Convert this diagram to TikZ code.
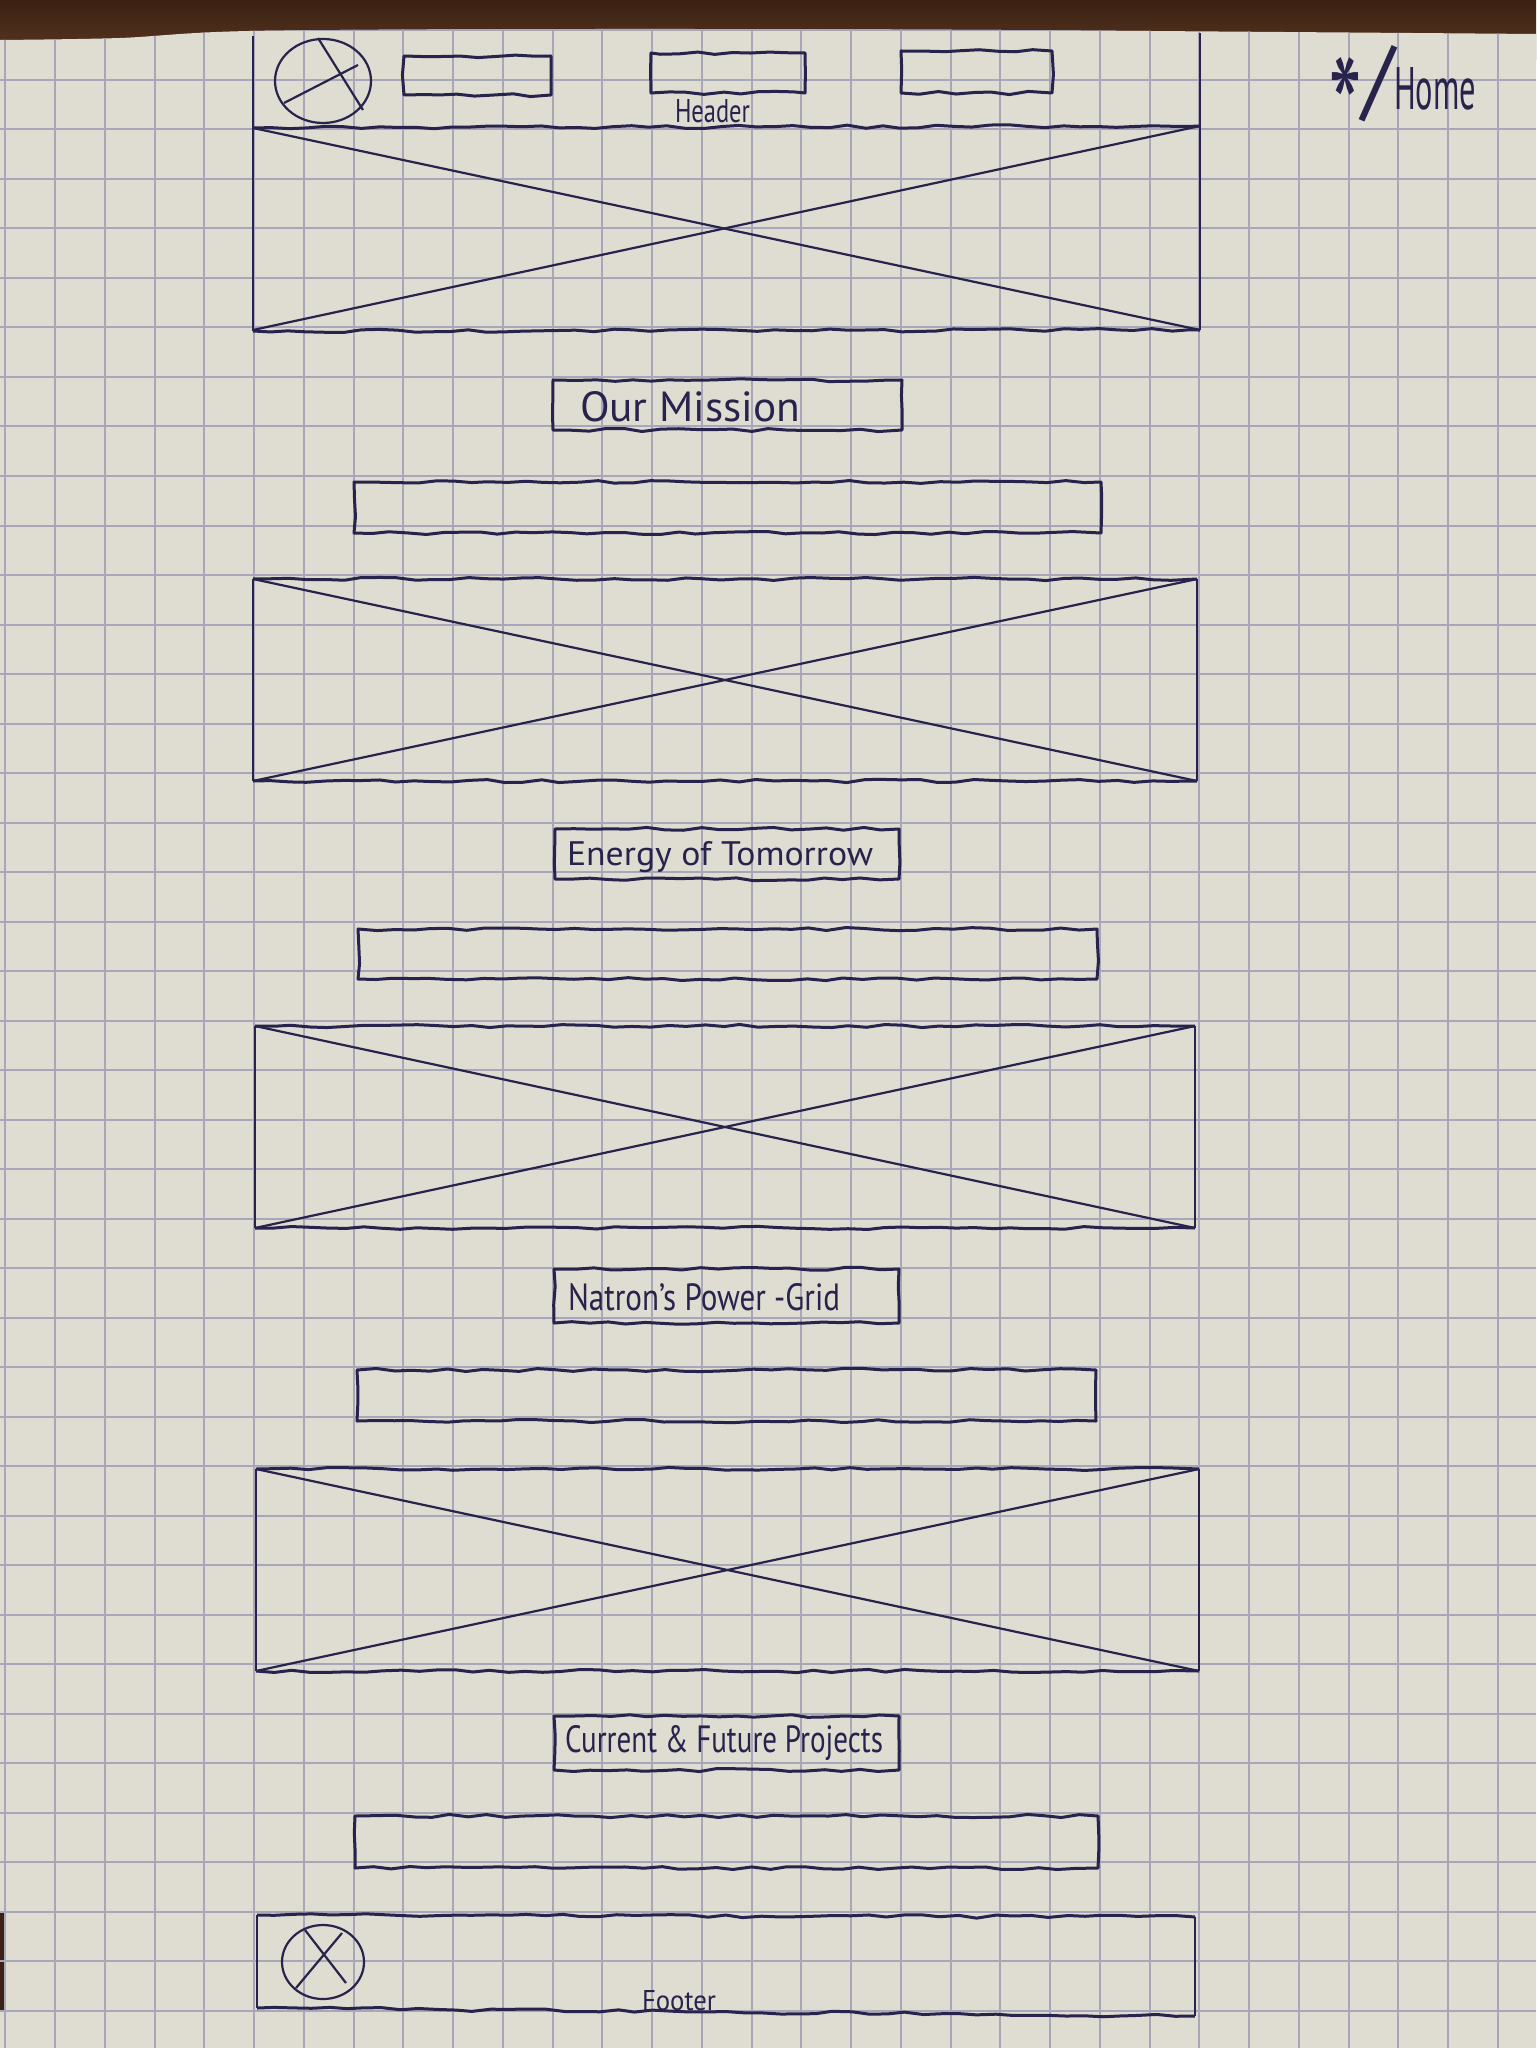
\documentclass[tikz,border=0pt]{standalone}
\usepackage{fontspec}
\setmainfont{PT Sans}
\usetikzlibrary{decorations.pathmorphing}
\definecolor{paper}{RGB}{223,220,210}
\definecolor{gridc}{RGB}{168,166,184}
\definecolor{ink}{RGB}{40,35,76}
\definecolor{wood}{RGB}{58,33,20}
\definecolor{woodb}{RGB}{92,56,33}
\begin{document}
\pgfmathsetseed{7}
\begin{tikzpicture}[x=0.5pt,y=-0.5pt,
  gridline/.style={gridc,line width=1pt},
  wob/.style={ink,line width=1.5pt,line join=round,decorate,
    decoration={random steps,segment length=9pt,amplitude=0.8pt}},
  vln/.style={ink,line width=1.1pt},
  crs/.style={ink,line width=1.1pt},
  lbl/.style={ink,inner sep=0pt,outer sep=0pt}]
\useasboundingbox (0,0) rectangle (1536,2048);
% background: wood and paper
\shade[top color=wood,bottom color=woodb] (0,0) rectangle (1536,60);
\fill[paper] plot[smooth] coordinates {(0,40) (120,38) (250,31) (600,29) (1000,30) (1536,34)} -- (1536,2048) -- (0,2048) -- cycle;
\fill[wood] (0,1912) rectangle (4,2012);
\begin{scope}
  \clip plot[smooth] coordinates {(0,40) (120,38) (250,31) (600,29) (1000,30) (1536,34)} -- (1536,2048) -- (0,2048) -- cycle;
  \foreach \k in {-5,...,26} \draw[gridline] ({254+\k*49.75},0) -- ({254+\k*49.75},2048);
  \foreach \k in {-1,...,39} \draw[gridline] (0,{80+\k*49.5}) -- (1536,{80+\k*49.5});
\end{scope}
% ---------- header ----------
\draw[vln] (253,36) -- (253,331);
\draw[vln] (1200,33) -- (1200,330);
\draw[wob] (253,128) -- (1200,126);
\draw[wob] (253,331) -- (1200,330);
\draw[crs] (253,128) -- (1200,330);
\draw[crs] (1200,126) -- (253,330);
\draw[crs] (323,81) ellipse [x radius=24pt, y radius=21pt];
\draw[crs] (318,38) -- (363,110);
\draw[crs] (284,103) -- (358,65);
\draw[wob] (404,56) rectangle (551,95);
\draw[wob] (651,53) rectangle (805,93);
\draw[wob] (901,51) rectangle (1052,93);
\node[lbl,anchor=base west] (theader) at (675,123) {\resizebox{37.5pt}{11.5pt}{Header}};
\node[lbl,anchor=base west] (thome) at (1328,110) {\raisebox{-25pt}{\resizebox{17pt}{51pt}{*}}\resizebox{16pt}{32pt}{/}\resizebox{41pt}{21pt}{Home}};
% ---------- section 1 ----------
\draw[wob] (553,380) rectangle (902,430);
\node[lbl,anchor=base west] (tmission) at (580,422) {\resizebox{110pt}{15pt}{Our Mission}};
\draw[wob] (354,482) rectangle (1101,533);
\draw[wob] (253,579) -- (1197,579);
\draw[wob] (253,781) -- (1197,781);
\draw[vln] (253,579) -- (253,781);
\draw[vln] (1197,579) -- (1197,781);
\draw[crs] (253,579) -- (1197,781);
\draw[crs] (1197,579) -- (253,781);
% ---------- section 2 ----------
\draw[wob] (555,829) rectangle (899,879);
\node[lbl,anchor=base west] (tenergy) at (567,865) {\resizebox{153pt}{12pt}{Energy of Tomorrow}};
\draw[wob] (358,929) rectangle (1097,979);
\draw[wob] (255,1026) -- (1195,1026);
\draw[wob] (255,1228) -- (1195,1228);
\draw[vln] (255,1026) -- (255,1228);
\draw[vln] (1195,1026) -- (1195,1228);
\draw[crs] (255,1026) -- (1195,1228);
\draw[crs] (1195,1026) -- (255,1228);
% ---------- section 3 ----------
\draw[wob] (554,1269) rectangle (899,1323);
\node[lbl,anchor=base west] (tnation) at (568,1310) {\resizebox{136pt}{13.5pt}{Natron's Power -Grid}};
\draw[wob] (357,1370) rectangle (1096,1421);
\draw[wob] (256,1469) -- (1199,1469);
\draw[wob] (256,1671) -- (1199,1671);
\draw[vln] (256,1469) -- (256,1671);
\draw[vln] (1199,1469) -- (1199,1671);
\draw[crs] (256,1469) -- (1199,1671);
\draw[crs] (1199,1469) -- (256,1671);
% ---------- section 4 ----------
\draw[wob] (554,1716) rectangle (899,1770);
\node[lbl,anchor=base west] (tprojects) at (565,1752) {\resizebox{159pt}{13.5pt}{Current \& Future Projects}};
\draw[wob] (355,1816) rectangle (1098,1868);
% ---------- footer ----------
\draw[wob] (257,1915) -- (1195,1917);
\draw[wob] (257,2008) -- (1195,2016);
\draw[vln] (257,1915) -- (257,2008);
\draw[vln] (1195,1917) -- (1195,2016);
\draw[crs] (323,1962) ellipse [x radius=20.5pt, y radius=18.5pt];
\draw[crs] (305,1930) -- (346,1983);
\draw[crs] (342,1933) -- (296,1988);
\node[lbl,anchor=base west] (tfooter) at (642,2010) {\resizebox{37pt}{10pt}{Footer}};
\end{tikzpicture}
\end{document}
